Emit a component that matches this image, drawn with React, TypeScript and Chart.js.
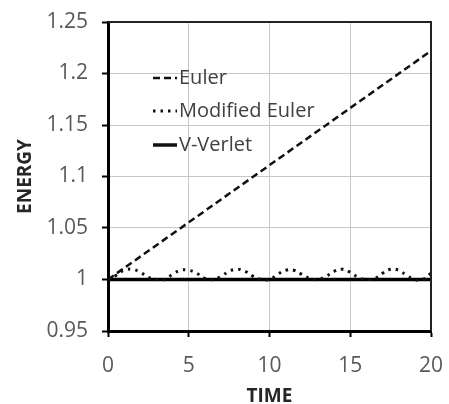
import React, { useEffect, useRef } from "react";
import { Chart, registerables } from "chart.js";

Chart.register(...registerables);

const timeValues = [0, 0.5, 1, 1.5, 2, 2.5, 3, 3.5, 4, 4.5, 5, 5.5, 6, 6.5, 7, 7.5, 8, 8.5, 9, 9.5, 10, 10.5, 11, 11.5, 12, 12.5, 13, 13.5, 14, 14.5, 15, 15.5, 16, 16.5, 17, 17.5, 18, 18.5, 19, 19.5, 20];
const modifiedEulerValues = [1.0, 1.004, 1.009, 1.01, 1.007, 1.002, 1.0, 1.0, 1.005, 1.009, 1.009, 1.006, 1.001, 1.0, 1.003, 1.008, 1.01, 1.008, 1.003, 1.0, 1.0, 1.005, 1.009, 1.009, 1.005, 1.001, 1.0, 1.003, 1.008, 1.01, 1.007, 1.002, 1.0, 1.001, 1.006, 1.01, 1.009, 1.004, 1.0, 1.0, 1.006];
const eulerTimes = [0, 20];
const eulerValues = [1.0, 1.222];
const verletTimes = [0, 20];
const verletValues = [1.0, 1.0];

const yTickLabels = ["0.95", "1", "1.05", "1.1", "1.15", "1.2", "1.25"];
const xTickLabels = ["0", "5", "10", "15", "20"];
const seriesNames = ["Euler", "Modified Euler", "V-Verlet"];

const FONT = "'Open Sans', 'Liberation Sans', sans-serif";

const legendPlugin = {
  id: "insideLegend",
  afterDraw(chart: any) {
    const { ctx, chartArea } = chart;
    const x0 = chartArea.left + 45;
    const ys = [chartArea.top + 56, chartArea.top + 89, chartArea.top + 123];
    ctx.save();
    ctx.strokeStyle = "#222";
    ctx.lineWidth = 2;
    ctx.beginPath();
    ctx.moveTo(chartArea.left, chartArea.top);
    ctx.lineTo(chartArea.right, chartArea.top);
    ctx.lineTo(chartArea.right, chartArea.bottom);
    ctx.stroke();
    chart.data.datasets.forEach((ds: any, i: number) => {
      const y = ys[i];
      ctx.strokeStyle = "#111";
      ctx.lineWidth = ds.borderWidth;
      ctx.setLineDash(ds.borderDash || []);
      ctx.beginPath();
      ctx.moveTo(x0, y);
      ctx.lineTo(x0 + 24, y);
      ctx.stroke();
      ctx.setLineDash([]);
      ctx.fillStyle = "#404040";
      ctx.font = `20px ${FONT}`;
      ctx.textBaseline = "middle";
      ctx.textAlign = "left";
      ctx.fillText(seriesNames[i], x0 + 26, y);
    });
    ctx.restore();
  },
};

export default function App() {
  const ref = useRef<HTMLCanvasElement>(null);
  useEffect(() => {
    if (!ref.current) return;
    const chart = new Chart(ref.current, {
      type: "line",
      data: {
        datasets: [
          {
            label: seriesNames[0],
            data: eulerTimes.map((t, i) => ({ x: t, y: eulerValues[i] })),
            borderColor: "#111",
            borderWidth: 2.5,
            borderDash: [7, 4],
            pointRadius: 0,
            fill: false,
          },
          {
            label: seriesNames[1],
            data: timeValues.map((t, i) => ({ x: t, y: modifiedEulerValues[i] })),
            borderColor: "#111",
            borderWidth: 3,
            borderDash: [2.5, 5],
            pointRadius: 0,
            tension: 0.4,
            fill: false,
          },
          {
            label: seriesNames[2],
            data: verletTimes.map((t, i) => ({ x: t, y: verletValues[i] })),
            borderColor: "#000",
            borderWidth: 3.5,
            pointRadius: 0,
            fill: false,
          },
        ],
      },
      options: {
        animation: false,
        responsive: true,
        maintainAspectRatio: false,
        layout: { padding: { top: 22, right: 18, left: 0, bottom: 0 } },
        plugins: { legend: { display: false }, tooltip: { enabled: false } },
        scales: {
          x: {
            type: "linear",
            min: 0,
            max: 20,
            afterFit: (s: any) => {
              s.height = 73;
              s.paddingLeft = 0;
              s.paddingRight = 0;
            },
            ticks: {
              stepSize: 5,
              color: "#595959",
              font: { family: FONT, size: 21 },
              padding: 16,
              callback: (_v: any, i: number) => xTickLabels[i],
            },
            grid: { color: "#c8c8c8", lineWidth: 1, tickColor: "#000", tickLength: 6, tickWidth: 2 },
            border: { color: "#000", width: 3 },
            title: {
              display: true,
              text: "TIME",
              color: "#262626",
              font: { family: FONT, size: 19, weight: "bold" },
              padding: { top: 0, bottom: -4 },
            },
          },
          y: {
            type: "linear",
            min: 0.95,
            max: 1.25,
            afterFit: (s: any) => {
              s.width = 108;
              s.paddingTop = 0;
              s.paddingBottom = 0;
            },
            ticks: {
              stepSize: 0.05,
              color: "#595959",
              font: { family: FONT, size: 21 },
              padding: 14,
              callback: (_v: any, i: number) => yTickLabels[i],
            },
            grid: { color: "#c8c8c8", lineWidth: 1, tickColor: "#000", tickLength: 6, tickWidth: 2 },
            border: { color: "#000", width: 3 },
            title: {
              display: true,
              text: "ENERGY",
              color: "#262626",
              font: { family: FONT, size: 19, weight: "bold" },
              padding: { top: 14, bottom: 0 },
            },
          },
        },
      },
      plugins: [legendPlugin],
    } as any);
    return () => chart.destroy();
  }, []);
  return (
    <div style={{ position: "fixed", left: 0, top: 0, width: 449, height: 404, background: "#fff" }}>
      <canvas ref={ref} />
    </div>
  );
}
